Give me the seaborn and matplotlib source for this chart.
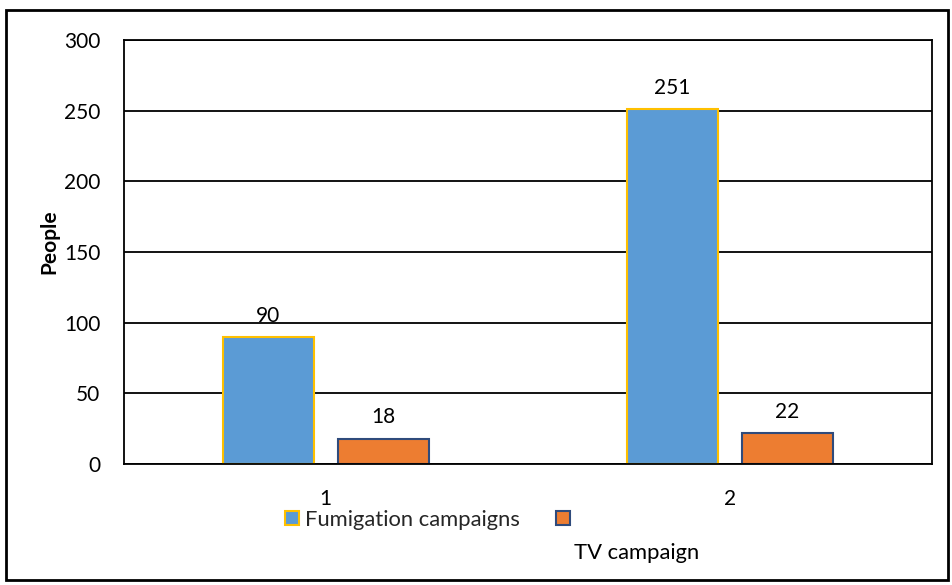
import matplotlib
matplotlib.use("Agg")
import matplotlib.pyplot as plt
import seaborn as sns
import pandas as pd
from matplotlib.patches import Patch, Rectangle

categories = ["1", "2"]
series_names = ["Fumigation campaigns", "TV campaign"]
fumigation = [90, 251]
tv = [18, 22]
y_ticks = [0, 50, 100, 150, 200, 250, 300]

df = pd.DataFrame({
    "cat": categories * 2,
    "series": [series_names[0]] * 2 + [series_names[1]] * 2,
    "value": fumigation + tv,
})

sns.set_theme(style="white")
plt.rcParams['font.family'] = ['Lato', 'DejaVu Sans']

FS = 15
LFS = 15.8

fig = plt.figure(figsize=(9.52, 5.85), dpi=100)
ax = fig.add_axes([0.130, 0.2068, 0.849, 0.7248])

colors = {series_names[0]: "#5B9BD5", series_names[1]: "#ED7D31"}
edges = {series_names[0]: "#FFC000", series_names[1]: "#2F4B7C"}

sns.barplot(data=df, x="cat", y="value", hue="series", order=categories,
            hue_order=series_names, palette=colors, width=0.57, gap=0.21,
            ax=ax, legend=False, saturation=1)

for container, name in zip(ax.containers, series_names):
    for bar in container:
        bar.set_edgecolor(edges[name])
        bar.set_linewidth(1.5)
    ax.bar_label(container, labels=[f"{v:.0f}" for v in container.datavalues],
                 padding=8, fontsize=FS, color="black")

ax.set_ylim(0, 300)
ax.set_yticks(y_ticks)
ax.yaxis.grid(True, color="black", linewidth=1.3)
ax.set_axisbelow(True)
for s in ax.spines.values():
    s.set_visible(True)
    s.set_color("black")
    s.set_linewidth(1.3)
ax.tick_params(axis="y", length=0, pad=17, labelsize=FS, colors="black")
ax.tick_params(axis="x", length=0, pad=18, labelsize=FS, colors="black")
ax.set_xlabel("")
ax.set_ylabel("People", fontsize=FS, fontweight="bold", color="black")
ax.yaxis.label.set_va("center")
ax.yaxis.set_label_coords(-0.0926, 0.525)

handles = [Patch(facecolor=colors[series_names[0]], edgecolor=edges[series_names[0]], linewidth=1.5),
           Patch(facecolor=colors[series_names[1]], edgecolor=edges[series_names[1]], linewidth=1.5)]
fig.legend(handles, [series_names[0], ""], loc="center left", bbox_to_anchor=(0.2994, 0.111),
           ncol=2, frameon=False, fontsize=LFS, handlelength=0.62, handleheight=0.62,
           handletextpad=0.3, columnspacing=1.65, borderpad=0, borderaxespad=0)
fig.text(0.603, 0.0547, series_names[1], fontsize=LFS, ha="left", va="center", color="black")

fig.patches.append(Rectangle((0.006, 0.008), 0.99, 0.975, transform=fig.transFigure,
                             fill=False, edgecolor="black", linewidth=2))

fig.savefig("out.png", dpi=100)
